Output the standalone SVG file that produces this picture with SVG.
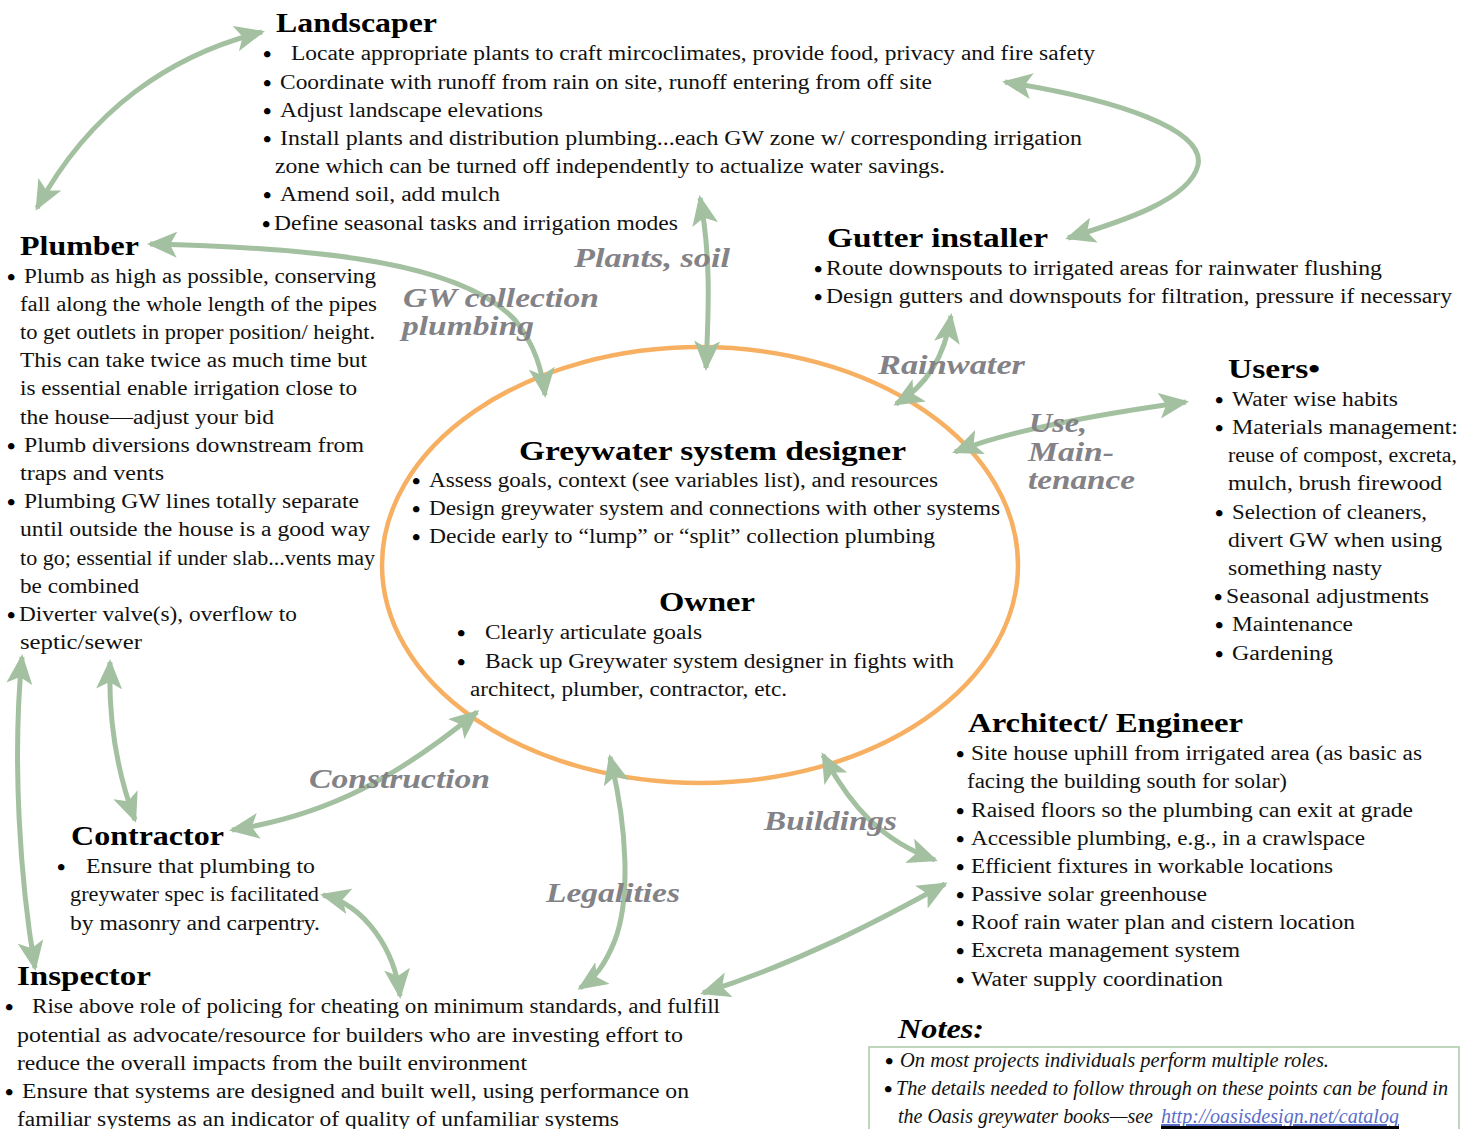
<svg xmlns="http://www.w3.org/2000/svg" width="1473" height="1129" viewBox="0 0 1473 1129">
<style>
text{font-family:"Liberation Serif",serif;fill:#111;}
.b{font-size:20px;}
.d{font-size:24px;font-weight:bold;fill:#000;}
.h{font-size:28px;font-weight:bold;fill:#000;}
.l{font-size:28px;font-weight:bold;font-style:italic;fill:#838287;}
.i{font-size:20px;font-style:italic;}
.c{fill:none;stroke:#a3c1a0;stroke-width:5;marker-start:url(#ah);marker-end:url(#ah);}
</style>
<defs>
<marker id="ah" viewBox="0 0 30 26" refX="27" refY="13" markerWidth="30" markerHeight="26" markerUnits="userSpaceOnUse" orient="auto-start-reverse">
<path d="M0,0 L30,13 L0,26 L7,13 Z" fill="#a3c1a0"/>
</marker>
</defs>
<rect width="1473" height="1129" fill="#fff"/>
<ellipse id="circle" cx="700" cy="565" rx="318" ry="218" fill="none" stroke="#f7b062" stroke-width="4.5"/>
<g id="connectors">
<path class="c" d="M37,208 C90,110 170,55 262,32"/>
<path class="c" d="M1005,82 C1120,100 1205,130 1198,165 C1190,200 1120,222 1068,238"/>
<path class="c" d="M700,198 C712,260 708,320 706,368"/>
<path class="c" d="M150,244 C320,248 460,262 515,320 C535,345 542,370 545,395"/>
<path class="c" d="M951,316 C945,355 928,385 896,404"/>
<path class="c" d="M955,452 C1010,430 1100,414 1186,402"/>
<path class="c" d="M232,830 C330,815 400,775 477,712"/>
<path class="c" d="M110,662 C108,725 118,775 135,820"/>
<path class="c" d="M22,657 C12,760 20,880 35,968"/>
<path class="c" d="M323,895 C365,905 395,950 400,996"/>
<path class="c" d="M610,757 C628,830 630,900 615,940 C605,965 595,978 580,988"/>
<path class="c" d="M823,755 C850,805 880,840 935,860"/>
<path class="c" d="M945,884 C880,920 800,962 703,993"/>
</g>
<g id="labels">
<text class="l" x="574" y="267" textLength="156" lengthAdjust="spacingAndGlyphs">Plants, soil</text>
<text class="l" x="403" y="307" textLength="196" lengthAdjust="spacingAndGlyphs">GW collection</text>
<text class="l" x="402" y="335" textLength="132" lengthAdjust="spacingAndGlyphs">plumbing</text>
<text class="l" x="878" y="374" textLength="147" lengthAdjust="spacingAndGlyphs">Rainwater</text>
<text class="l" x="1029" y="432" textLength="58" lengthAdjust="spacingAndGlyphs">Use,</text>
<text class="l" x="1028" y="461" textLength="86" lengthAdjust="spacingAndGlyphs">Main-</text>
<text class="l" x="1028" y="489" textLength="107" lengthAdjust="spacingAndGlyphs">tenance</text>
<text class="l" x="309" y="788" textLength="181" lengthAdjust="spacingAndGlyphs">Construction</text>
<text class="l" x="764" y="830" textLength="133" lengthAdjust="spacingAndGlyphs">Buildings</text>
<text class="l" x="546" y="902" textLength="134" lengthAdjust="spacingAndGlyphs">Legalities</text>
</g>
<g id="landscaper">
<text class="h" x="276" y="32" textLength="161" lengthAdjust="spacingAndGlyphs">Landscaper</text>
<text class="d" x="263" y="62">•</text><text class="b" x="291" y="60" textLength="804" lengthAdjust="spacingAndGlyphs">Locate appropriate plants to craft mircoclimates, provide food, privacy and fire safety</text>
<text class="d" x="263" y="91">•</text><text class="b" x="280" y="89" textLength="652" lengthAdjust="spacingAndGlyphs">Coordinate with runoff from rain on site, runoff entering from off site</text>
<text class="d" x="263" y="119">•</text><text class="b" x="280" y="117" textLength="263" lengthAdjust="spacingAndGlyphs">Adjust landscape elevations</text>
<text class="d" x="263" y="147">•</text><text class="b" x="280" y="145" textLength="802" lengthAdjust="spacingAndGlyphs">Install plants and distribution plumbing...each GW zone w/ corresponding irrigation</text>
<text class="b" x="275" y="173" textLength="670" lengthAdjust="spacingAndGlyphs">zone which can be turned off independently to actualize water savings.</text>
<text class="d" x="263" y="203">•</text><text class="b" x="280" y="201" textLength="220" lengthAdjust="spacingAndGlyphs">Amend soil, add mulch</text>
<text class="d" x="262" y="232">•</text><text class="b" x="274" y="230" textLength="404" lengthAdjust="spacingAndGlyphs">Define seasonal tasks and irrigation modes</text>
</g>
<g id="plumber">
<text class="h" x="20" y="255" textLength="119" lengthAdjust="spacingAndGlyphs">Plumber</text>
<text class="d" x="7" y="285">•</text><text class="b" x="24" y="283" textLength="352" lengthAdjust="spacingAndGlyphs">Plumb as high as possible, conserving</text>
<text class="b" x="20" y="311" textLength="357" lengthAdjust="spacingAndGlyphs">fall along the whole length of the pipes</text>
<text class="b" x="20" y="339" textLength="355" lengthAdjust="spacingAndGlyphs">to get outlets in proper position/ height.</text>
<text class="b" x="20" y="367" textLength="347" lengthAdjust="spacingAndGlyphs">This can take twice as much time but</text>
<text class="b" x="20" y="395" textLength="337" lengthAdjust="spacingAndGlyphs">is essential enable irrigation close to</text>
<text class="b" x="20" y="424" textLength="254" lengthAdjust="spacingAndGlyphs">the house—adjust your bid</text>
<text class="d" x="7" y="454">•</text><text class="b" x="24" y="452" textLength="340" lengthAdjust="spacingAndGlyphs">Plumb diversions downstream from</text>
<text class="b" x="20" y="480" textLength="144" lengthAdjust="spacingAndGlyphs">traps and vents</text>
<text class="d" x="7" y="510">•</text><text class="b" x="24" y="508" textLength="335" lengthAdjust="spacingAndGlyphs">Plumbing GW lines totally separate</text>
<text class="b" x="20" y="536" textLength="350" lengthAdjust="spacingAndGlyphs">until outside the house is a good way</text>
<text class="b" x="20" y="565" textLength="355" lengthAdjust="spacingAndGlyphs">to go; essential if under slab...vents may</text>
<text class="b" x="20" y="593" textLength="119" lengthAdjust="spacingAndGlyphs">be combined</text>
<text class="d" x="7" y="623">•</text><text class="b" x="19" y="621" textLength="278" lengthAdjust="spacingAndGlyphs">Diverter valve(s), overflow to</text>
<text class="b" x="20" y="649" textLength="122" lengthAdjust="spacingAndGlyphs">septic/sewer</text>
</g>
<g id="gutter-installer">
<text class="h" x="827" y="247" textLength="221" lengthAdjust="spacingAndGlyphs">Gutter installer</text>
<text class="d" x="814" y="277">•</text><text class="b" x="826" y="275" textLength="556" lengthAdjust="spacingAndGlyphs">Route downspouts to irrigated areas for rainwater flushing</text>
<text class="d" x="814" y="305">•</text><text class="b" x="826" y="303" textLength="626" lengthAdjust="spacingAndGlyphs">Design gutters and downspouts for filtration, pressure if necessary</text>
</g>
<g id="users">
<text class="h" x="1228" y="378" textLength="92" lengthAdjust="spacingAndGlyphs">Users•</text>
<text class="d" x="1215" y="408">•</text><text class="b" x="1232" y="406" textLength="166" lengthAdjust="spacingAndGlyphs">Water wise habits</text>
<text class="d" x="1215" y="436">•</text><text class="b" x="1232" y="434" textLength="226" lengthAdjust="spacingAndGlyphs">Materials  management:</text>
<text class="b" x="1228" y="462" textLength="229" lengthAdjust="spacingAndGlyphs">reuse of compost, excreta,</text>
<text class="b" x="1228" y="490" textLength="214" lengthAdjust="spacingAndGlyphs">mulch, brush firewood</text>
<text class="d" x="1215" y="521">•</text><text class="b" x="1232" y="519" textLength="195" lengthAdjust="spacingAndGlyphs">Selection of cleaners,</text>
<text class="b" x="1228" y="547" textLength="214" lengthAdjust="spacingAndGlyphs">divert GW when using</text>
<text class="b" x="1228" y="575" textLength="154" lengthAdjust="spacingAndGlyphs">something nasty</text>
<text class="d" x="1214" y="605">•</text><text class="b" x="1226" y="603" textLength="203" lengthAdjust="spacingAndGlyphs">Seasonal adjustments</text>
<text class="d" x="1215" y="633">•</text><text class="b" x="1232" y="631" textLength="121" lengthAdjust="spacingAndGlyphs">Maintenance</text>
<text class="d" x="1215" y="662">•</text><text class="b" x="1232" y="660" textLength="101" lengthAdjust="spacingAndGlyphs">Gardening</text>
</g>
<g id="greywater-designer">
<text class="h" x="519" y="460" textLength="387" lengthAdjust="spacingAndGlyphs">Greywater system designer</text>
<text class="d" x="412" y="489">•</text><text class="b" x="429" y="487" textLength="509" lengthAdjust="spacingAndGlyphs">Assess goals, context (see variables list), and resources</text>
<text class="d" x="412" y="517">•</text><text class="b" x="429" y="515" textLength="571" lengthAdjust="spacingAndGlyphs">Design greywater system and connections with other systems</text>
<text class="d" x="412" y="545">•</text><text class="b" x="429" y="543" textLength="506" lengthAdjust="spacingAndGlyphs">Decide early to “lump” or “split” collection plumbing</text>
</g>
<g id="owner">
<text class="h" x="659" y="611" textLength="96" lengthAdjust="spacingAndGlyphs">Owner</text>
<text class="d" x="457" y="641">•</text><text class="b" x="485" y="639" textLength="217" lengthAdjust="spacingAndGlyphs">Clearly articulate goals</text>
<text class="d" x="457" y="670">•</text><text class="b" x="485" y="668" textLength="469" lengthAdjust="spacingAndGlyphs">Back up Greywater system designer in fights with</text>
<text class="b" x="470" y="696" textLength="317" lengthAdjust="spacingAndGlyphs">architect, plumber, contractor, etc.</text>
</g>
<g id="architect-engineer">
<text class="h" x="968" y="732" textLength="275" lengthAdjust="spacingAndGlyphs">Architect/ Engineer</text>
<text class="d" x="956" y="762">•</text><text class="b" x="971" y="760" textLength="451" lengthAdjust="spacingAndGlyphs">Site house uphill from irrigated area (as basic as</text>
<text class="b" x="967" y="788" textLength="320" lengthAdjust="spacingAndGlyphs">facing the building south for solar)</text>
<text class="d" x="956" y="819">•</text><text class="b" x="971" y="817" textLength="442" lengthAdjust="spacingAndGlyphs">Raised floors so the plumbing can exit at grade</text>
<text class="d" x="956" y="847">•</text><text class="b" x="971" y="845" textLength="394" lengthAdjust="spacingAndGlyphs">Accessible plumbing, e.g., in a crawlspace</text>
<text class="d" x="956" y="875">•</text><text class="b" x="971" y="873" textLength="362" lengthAdjust="spacingAndGlyphs">Efficient fixtures in workable locations</text>
<text class="d" x="956" y="903">•</text><text class="b" x="971" y="901" textLength="236" lengthAdjust="spacingAndGlyphs">Passive solar greenhouse</text>
<text class="d" x="956" y="931">•</text><text class="b" x="971" y="929" textLength="384" lengthAdjust="spacingAndGlyphs">Roof rain water plan and cistern location</text>
<text class="d" x="956" y="959">•</text><text class="b" x="971" y="957" textLength="269" lengthAdjust="spacingAndGlyphs">Excreta management system</text>
<text class="d" x="956" y="988">•</text><text class="b" x="971" y="986" textLength="252" lengthAdjust="spacingAndGlyphs">Water supply coordination</text>
</g>
<g id="contractor">
<text class="h" x="71" y="845" textLength="153" lengthAdjust="spacingAndGlyphs">Contractor</text>
<text class="d" x="57" y="875">•</text><text class="b" x="86" y="873" textLength="229" lengthAdjust="spacingAndGlyphs">Ensure that plumbing to</text>
<text class="b" x="70" y="901" textLength="249" lengthAdjust="spacingAndGlyphs">greywater spec is facilitated</text>
<text class="b" x="70" y="930" textLength="250" lengthAdjust="spacingAndGlyphs">by masonry and carpentry.</text>
</g>
<g id="inspector">
<text class="h" x="17" y="985" textLength="134" lengthAdjust="spacingAndGlyphs">Inspector</text>
<text class="d" x="5" y="1015">•</text><text class="b" x="32" y="1013" textLength="688" lengthAdjust="spacingAndGlyphs">Rise above role of policing for cheating on minimum standards, and fulfill</text>
<text class="b" x="17" y="1042" textLength="666" lengthAdjust="spacingAndGlyphs">potential as advocate/resource for builders who are investing  effort to</text>
<text class="b" x="17" y="1070" textLength="510" lengthAdjust="spacingAndGlyphs">reduce the overall impacts from the built environment</text>
<text class="d" x="5" y="1100">•</text><text class="b" x="22" y="1098" textLength="667" lengthAdjust="spacingAndGlyphs">Ensure that systems are designed and built well, using performance on</text>
<text class="b" x="17" y="1126" textLength="602" lengthAdjust="spacingAndGlyphs">familiar systems as an indicator of quality of unfamiliar systems</text>
</g>
<g id="notes">
<text class="h" x="898" y="1038" font-style="italic" textLength="86" lengthAdjust="spacingAndGlyphs">Notes:</text>
<rect x="869" y="1047" width="590" height="100" fill="none" stroke="#a9c9a4" stroke-width="1.5"/>
<text class="d" x="885" y="1069">•</text><text class="i" x="900" y="1067" textLength="429" lengthAdjust="spacingAndGlyphs">On most projects individuals perform multiple roles.</text>
<text class="d" x="884" y="1097">•</text><text class="i" x="896" y="1095" textLength="552" lengthAdjust="spacingAndGlyphs">The details needed to follow through on these points can be found in</text>
<text class="i" x="898" y="1123" textLength="255" lengthAdjust="spacingAndGlyphs">the Oasis greywater books—see</text>
<text class="i" x="1161" y="1123" textLength="238" lengthAdjust="spacingAndGlyphs" style="fill:#5a6ec8;text-decoration:underline">http://oasisdesign.net/catalog</text>
<rect x="1161" y="1126" width="238" height="3" fill="#000"/>
</g>
</svg>
